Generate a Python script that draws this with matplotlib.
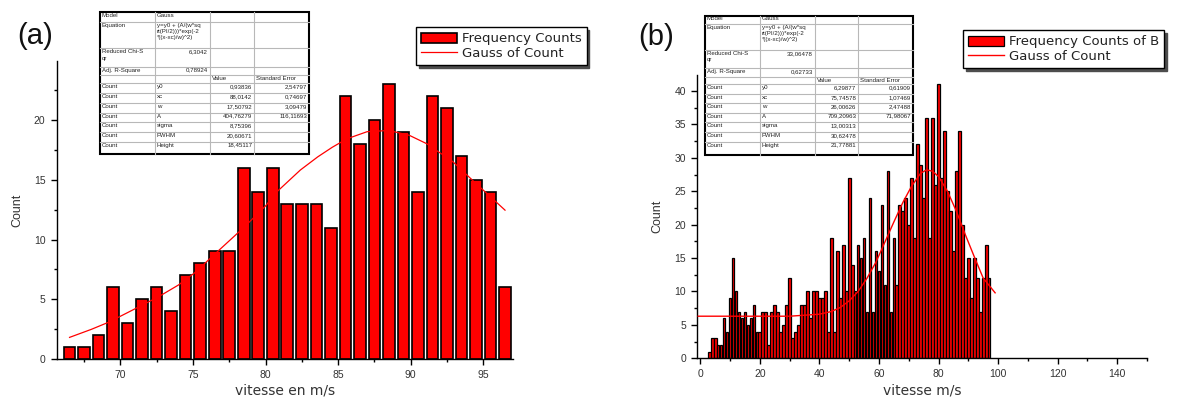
import numpy as np
import matplotlib
matplotlib.use("Agg")
import matplotlib.pyplot as plt
from matplotlib.patches import Rectangle
from matplotlib.ticker import MultipleLocator

plt.rcParams['font.family'] = ['Liberation Sans', 'DejaVu Sans']

# ---------------- data ----------------
speed_a = [66.5, 67.5, 68.5, 69.5, 70.5, 71.5, 72.5, 73.5, 74.5, 75.5,
           76.5, 77.5, 78.5, 79.5, 80.5, 81.5, 82.5, 83.5, 84.5, 85.5,
           86.5, 87.5, 88.5, 89.5, 90.5, 91.5, 92.5, 93.5, 94.5, 95.5, 96.5]
counts_a = [1, 1, 2, 6, 3, 5, 6, 4, 7, 8,
            9, 9, 16, 14, 16, 13, 13, 13, 11, 22,
            18, 20, 23, 19, 14, 22, 21, 17, 15, 14, 6]
gauss_a_x = [66.5, 68.0, 69.2, 70.5, 72.6, 74.0, 75.1, 76.7, 78.5, 80.0, 80.8,
             82.4, 83.6, 84.6, 85.6, 87.0, 88.5, 89.9, 91.1, 92.9, 94.3, 96.5]
gauss_a_y = [1.83, 2.5, 3.1, 3.9, 5.2, 6.2, 7.2, 9.0, 11.0, 12.8, 14.0,
             15.8, 16.9, 17.7, 18.4, 19.0, 19.1, 18.7, 18.0, 16.5, 14.9, 12.45]

speed_b = list(range(3, 98))
counts_b = [1, 3, 3, 2, 2, 6, 4, 9, 15, 10,
            7, 6, 7, 5, 6, 8, 4, 4, 7, 7,
            2, 7, 8, 7, 4, 5, 8, 12, 3, 4,
            5, 8, 8, 10, 6, 10, 10, 9, 9, 10,
            4, 18, 4, 16, 9, 17, 10,
            27, 14, 10, 17, 15, 18, 7, 24, 7, 16,
            13, 23, 11, 28, 7, 18, 11, 23, 22, 24,
            20, 27, 18, 32, 29, 24, 36, 18, 36, 26,
            41, 27, 34, 25, 22, 16, 28, 34, 20, 12,
            15, 9, 15, 12, 7, 12, 17, 12]
gauss_b_x = [-0.7, 10, 20, 30, 40, 44, 47, 50, 53, 56, 59, 62, 65, 68, 71,
             74, 76, 78, 80, 83, 86, 89, 92, 95, 99]
gauss_b_y = [6.3, 6.3, 6.3, 6.3, 6.6, 7.0, 7.6, 8.6, 10.0, 12.0, 14.4, 17.4, 20.4,
             23.3, 25.8, 27.7, 28.2, 28.0, 27.2, 25.0, 22.0, 18.5, 15.2, 12.0, 9.8]

series_a = "Frequency Counts"
series_b = "Frequency Counts of B"
fit_label = "Gauss of Count"
xlabel_a = "vitesse en m/s"
xlabel_b = "vitesse m/s"
ylabel = "Count"

equation = "y=y0 + (A/(w*sq\nrt(PI/2)))*exp(-2\n*((x-xc)/w)^2)"
table_a = [
    ["Model", "Gauss", "", ""],
    ["Equation", equation, "", ""],
    ["Reduced Chi-S\nqr", "6,3042", "", ""],
    ["Adj. R-Square", "0,78924", "", ""],
    ["", "", "Value", "Standard Error"],
    ["Count", "y0", "0,93836", "2,54797"],
    ["Count", "xc", "88,0142", "0,74697"],
    ["Count", "w", "17,50792", "3,09479"],
    ["Count", "A", "404,76279", "116,11693"],
    ["Count", "sigma", "8,75396", ""],
    ["Count", "FWHM", "20,60671", ""],
    ["Count", "Height", "18,45117", ""],
]
table_b = [
    ["Model", "Gauss", "", ""],
    ["Equation", equation, "", ""],
    ["Reduced Chi-S\nqr", "33,06478", "", ""],
    ["Adj. R-Square", "0,62733", "", ""],
    ["", "", "Value", "Standard Error"],
    ["Count", "y0", "6,29877", "0,61909"],
    ["Count", "xc", "75,74578", "1,07469"],
    ["Count", "w", "26,00626", "2,47488"],
    ["Count", "A", "709,20963", "71,98067"],
    ["Count", "sigma", "13,00313", ""],
    ["Count", "FWHM", "30,62478", ""],
    ["Count", "Height", "21,77881", ""],
]

# ---------------- figure ----------------
W, H = 1195, 403
fig = plt.figure(figsize=(W / 100, H / 100), dpi=100)
RED = '#ff0000'
TXT = '#333333'
WIDE = ['DejaVu Sans']


def fax(l, t, r, b, **kw):
    return fig.add_axes([l / W, 1 - b / H, (r - l) / W, (b - t) / H], **kw)


def style(ax):
    for s in ('top', 'right'):
        ax.spines[s].set_visible(False)
    for s in ('left', 'bottom'):
        ax.spines[s].set_linewidth(1.0)
    ax.tick_params(which='major', direction='out', length=4, width=1,
                   labelsize=7.5, labelcolor=TXT)
    ax.tick_params(which='minor', direction='out', length=2.5, width=1)
    ax.tick_params(axis='x', which='major', pad=4)
    ax.tick_params(axis='y', which='major', pad=4)


ax_a = fax(56.5, 61, 513, 359.3)
ax_b = fax(697, 75, 1147, 358.3)

bars_a = ax_a.bar(speed_a, counts_a, width=0.8, color=RED, edgecolor='black',
                  linewidth=1.2, zorder=2)
line_a, = ax_a.plot(gauss_a_x, gauss_a_y, color=RED, lw=0.9, zorder=3)
ax_a.set_xlim(65.6, 97.05)
ax_a.set_ylim(0, 24.9)
ax_a.xaxis.set_major_locator(MultipleLocator(5))
ax_a.xaxis.set_minor_locator(MultipleLocator(2.5))
ax_a.yaxis.set_major_locator(MultipleLocator(5))
ax_a.yaxis.set_minor_locator(MultipleLocator(2.5))
style(ax_a)

bars_b = ax_b.bar(speed_b, counts_b, width=0.9, color=RED, edgecolor='black',
                  linewidth=0.9, zorder=2)
line_b, = ax_b.plot(gauss_b_x, gauss_b_y, color=RED, lw=1.0, zorder=3)
ax_b.set_xlim(-1.1, 150)
ax_b.set_ylim(0, 42.4)
ax_b.xaxis.set_major_locator(MultipleLocator(20))
ax_b.xaxis.set_minor_locator(MultipleLocator(10))
ax_b.yaxis.set_major_locator(MultipleLocator(5))
ax_b.yaxis.set_minor_locator(MultipleLocator(2.5))
style(ax_b)

# axis labels
for ax, xl, yx, xy in ((ax_a, xlabel_a, -0.0865, -0.106), (ax_b, xlabel_b, -0.089, -0.115)):
    ax.set_xlabel(xl, fontsize=10, color=TXT, family=WIDE)
    ax.xaxis.label.set_va('center')
    ax.xaxis.set_label_coords(0.5, xy)
    ax.set_ylabel(ylabel, fontsize=9, color=TXT)
    ax.yaxis.label.set_va('center')
    ax.yaxis.set_label_coords(yx, 0.5)

# panel letters
fig.text(17 / W, 1 - 36 / H, "(a)", fontsize=21, va='center', ha='left', color='#111')
fig.text(638 / W, 1 - 37 / H, "(b)", fontsize=21, va='center', ha='left', color='#111')

# legends
for ax, bars, line, lab, (lx, ly) in ((ax_a, bars_a, line_a, series_a, (416, 27)),
                                      (ax_b, bars_b, line_b, series_b, (963, 30))):
    leg = ax.legend([bars, line], [lab, fit_label], loc='upper left',
                    bbox_to_anchor=(lx / W, 1 - ly / H), bbox_transform=fig.transFigure,
                    frameon=True, fancybox=False,
                    shadow={'color': '0.3', 'alpha': 1},
                    edgecolor='black', prop={'family': WIDE, 'size': 9.5},
                    handlelength=2.7, handleheight=0.8,
                    borderpad=0.4, labelspacing=0.12, handletextpad=0.35,
                    borderaxespad=0)
    leg.get_frame().set_linewidth(1.0)
    for t in leg.get_texts():
        t.set_color('#222')

# fit tables (overlay in pixel coordinates)
ov = fig.add_axes([0, 0, 1, 1], zorder=20)
ov.set_xlim(0, W)
ov.set_ylim(H, 0)
ov.axis('off')
ov.patch.set_alpha(0)


def draw_table(cols, rows, cells):
    l, r = cols[0], cols[-1]
    t, b = rows[0], rows[-1]
    ov.add_patch(Rectangle((l, t), r - l, b - t, facecolor='white', edgecolor='none'))
    for x in cols[1:-1]:
        ov.plot([x, x], [t, b], color='#b8b8b8', lw=0.8)
    for y in rows[1:-1]:
        ov.plot([l, r], [y, y], color='#b8b8b8', lw=0.8)
    ov.add_patch(Rectangle((l, t), r - l, b - t, fill=False, edgecolor='black', lw=1.5))
    for i, row in enumerate(cells):
        for j, txt in enumerate(row):
            if not txt:
                continue
            right = (j >= 2 and i != 4) or (j == 1 and i in (2, 3))
            if right:
                x, ha = cols[j + 1] - 2, 'right'
            else:
                x, ha = cols[j] + 2, 'left'
            ov.text(x, rows[i] + 1.0, txt, ha=ha, va='top', fontsize=4.4,
                    color='#222', linespacing=1.35)


draw_table([100, 155, 210, 254.3, 309.3],
           [11.7, 21.7, 48.3, 66.7, 75, 83.3, 93.3, 103.3, 112.7, 122.3, 132, 141.7, 153.5],
           table_a)
draw_table([705, 760, 815, 858.3, 913],
           [15.5, 23.5, 50, 68.3, 76.7, 84.3, 94.3, 103.3, 112.7, 122.3, 132, 141.7, 155],
           table_b)

fig.savefig("out.png", dpi=100)
